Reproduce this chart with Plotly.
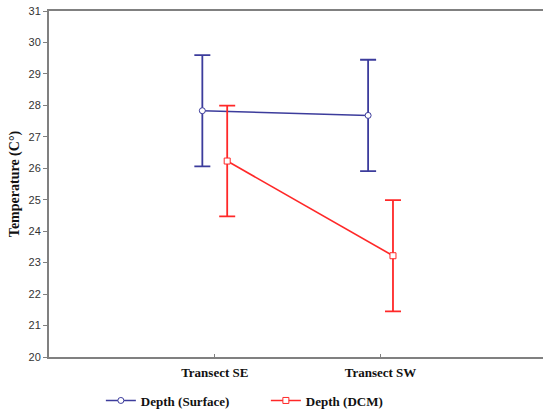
import plotly.graph_objects as go

categories = ["Transect SE", "Transect SW"]
surface_mean = [27.83, 27.68]
surface_err = [1.77, 1.77]
dcm_mean = [26.23, 23.22]
dcm_err = [1.76, 1.77]

blue = "#3c3c9c"
red = "#ff2828"
offset = 0.075
xs = list(range(len(categories)))

fig = go.Figure()
fig.add_trace(go.Scatter(
    x=[i - offset for i in xs], y=surface_mean, name="<b>Depth (Surface)</b>",
    mode="lines+markers",
    line=dict(color=blue, width=1.6),
    marker=dict(symbol="circle", size=6, color="white", line=dict(color=blue, width=1)),
    error_y=dict(type="data", array=surface_err, color=blue, thickness=1.8, width=8),
))
fig.add_trace(go.Scatter(
    x=[i + offset for i in xs], y=dcm_mean, name="<b>Depth (DCM)</b>",
    mode="lines+markers",
    line=dict(color=red, width=1.6),
    marker=dict(symbol="square", size=6, color="white", line=dict(color=red, width=1)),
    error_y=dict(type="data", array=dcm_err, color=red, thickness=1.8, width=8),
))

fig.update_layout(
    width=543, height=411,
    margin=dict(l=49, r=0, t=11, b=54, autoexpand=False),
    plot_bgcolor="white", paper_bgcolor="white",
    showlegend=True,
    legend=dict(orientation="h", x=0.105, xanchor="left",
                yref="container", y=0.062, yanchor="top",
                font=dict(family="Liberation Serif", size=13, color="#111111"),
                entrywidth=120, entrywidthmode="pixels",
                bgcolor="rgba(0,0,0,0)"),
)
fig.update_xaxes(
    range=[-1, 1.98], tickmode="array", tickvals=xs,
    ticktext=["<b>%s</b>" % c for c in categories],
    showgrid=False, zeroline=False, automargin=False,
    showline=True, linecolor="#808080", linewidth=2, mirror=True,
    ticks="inside", ticklen=3, tickcolor="#808080",
    ticklabelstandoff=2,
    tickfont=dict(family="Liberation Serif", size=13, color="#111111"),
    fixedrange=True,
)
fig.update_yaxes(
    range=[20, 31], dtick=1, tick0=20,
    showgrid=False, zeroline=False, automargin=False,
    showline=True, linecolor="#808080", linewidth=2,
    ticks="outside", ticklen=4, tickcolor="#808080",
    tickfont=dict(family="Liberation Sans", size=11, color="#333333"),
    title=dict(text="<b>Temperature (C°)</b>", standoff=6,
               font=dict(family="Liberation Serif", size=14, color="#111111")),
)

fig.write_html("out.html")
